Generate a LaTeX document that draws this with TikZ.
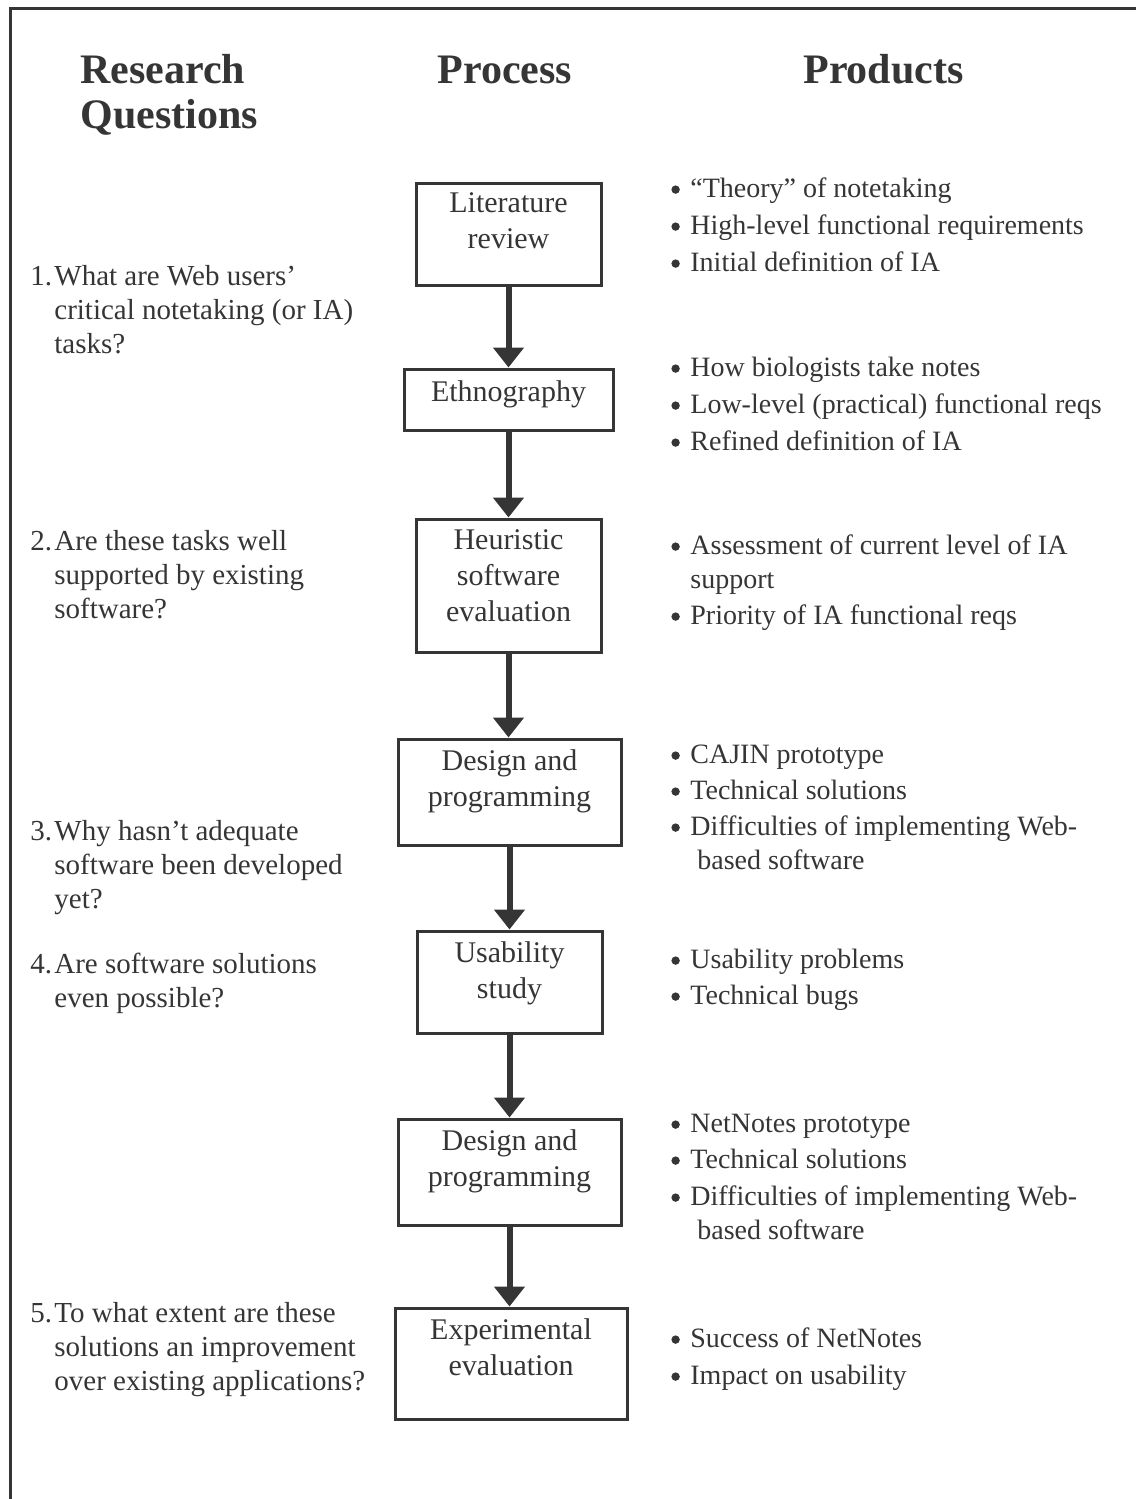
\documentclass[tikz,border=0pt]{standalone}
\usepackage{fontspec}
\setmainfont{Liberation Serif}
\usetikzlibrary{arrows.meta,fit}
\definecolor{ink}{HTML}{353535}
\newcommand{\bul}{\makebox[11pt][l]{\hspace{1.5pt}\tikz[baseline=0pt]\fill[ink] (0pt,3.7pt) circle (2.1pt);}}
\newcommand{\qnum}[1]{\makebox[12pt][l]{#1}}
\newcommand{\qind}{\hspace*{12pt}}
\begin{document}
\begin{tikzpicture}[x=0.5pt,y=-0.5pt,
  hdr/.style={font=\fontsize{21}{22.5}\selectfont\bfseries, text=ink, inner sep=0, align=left, anchor=base west},
  proc/.style={draw=ink, line width=1.5pt, inner sep=0},
  ptxt/.style={font=\fontsize{15}{18}\selectfont, text=ink, align=center, inner sep=0, anchor=base},
  ques/.style={font=\fontsize{14.5}{17}\selectfont, text=ink, align=left, inner sep=0, anchor=base west},
  prod/.style={font=\fontsize{14}{17}\selectfont, text=ink, align=left, inner sep=0, anchor=base west},
  flow/.style={draw=ink, line width=3pt, -{Triangle[width=15pt,length=10pt]}},
  frame/.style={draw=ink, line width=1.5pt}]
\useasboundingbox (0,0) rectangle (1136,1499);
% frame (top and left only)
\coordinate (fTR) at (1136,8);
\coordinate (fTL) at (10,8);
\coordinate (fBL) at (10,1499);
\draw[frame] (fTR) -- (fTL) -- (fBL);

% headers (multi-line nodes: base = last line)
\node[hdr] (hRQ) at (80,128) {Research\\Questions};
\node[hdr, anchor=base] (hPr) at (505,83) {Process};
\node[hdr, anchor=base west] (hPd) at (803,83) {Products};

% process boxes
\node[proc, fit={(416,183) (601,285)}] (b1) {};
\node[proc, fit={(404,369) (613,430)}] (b2) {};
\node[proc, fit={(416,519) (601,652)}] (b3) {};
\node[proc, fit={(398,739) (621,845)}] (b4) {};
\node[proc, fit={(417,931) (602,1033)}] (b5) {};
\node[proc, fit={(398,1119) (621,1225)}] (b6) {};
\node[proc, fit={(395,1308) (627,1419)}] (b7) {};

\node[ptxt] (t1) at (508.5,248) {Literature\\review};
\node[ptxt] (t2) at (508.5,401) {Ethnography};
\node[ptxt] (t3) at (508.5,621) {Heuristic\\software\\evaluation};
\node[ptxt] (t4) at (509.5,806) {Design and\\programming};
\node[ptxt] (t5) at (509.5,998) {Usability\\study};
\node[ptxt] (t6) at (509.5,1186) {Design and\\programming};
\node[ptxt] (t7) at (511,1375) {Experimental\\evaluation};

% arrows
\draw[flow] (b1.south) -- (b1.south |- b2.north);
\draw[flow] (b2.south) -- (b2.south |- b3.north);
\draw[flow] (b3.south) -- (b3.south |- b4.north);
\draw[flow] (b4.south) -- (b4.south |- b5.north);
\draw[flow] (b5.south) -- (b5.south |- b6.north);
\draw[flow] (b6.south) -- (b6.south |- b7.north);

% research questions
\node[ques] (q1) at (30,353) {\qnum{1.}What are Web users'\\\qind critical notetaking (or IA)\\\qind tasks?};
\node[ques] (q2) at (30,618) {\qnum{2.}Are these tasks well\\\qind supported by existing\\\qind software?};
\node[ques] (q3) at (30,908) {\qnum{3.}Why hasn't adequate\\\qind software been developed\\\qind yet?};
\node[ques] (q4) at (30,1007) {\qnum{4.}Are software solutions\\\qind even possible?};
\node[ques] (q5) at (30,1390) {\qnum{5.}To what extent are these\\\qind solutions an improvement\\\qind over existing applications?};

% products
\node[prod] (p11) at (668,197) {\bul``Theory'' of notetaking};
\node[prod] (p12) at (668,234) {\bul High-level functional requirements};
\node[prod] (p13) at (668,271) {\bul Initial definition of IA};

\node[prod] (p21) at (668,376) {\bul How biologists take notes};
\node[prod] (p22) at (668,413) {\bul Low-level (practical) functional reqs};
\node[prod] (p23) at (668,450) {\bul Refined definition of IA};

\node[prod] (p31) at (668,588) {\bul Assessment of current level of IA\\\hspace*{11pt}support};
\node[prod] (p32) at (668,624) {\bul Priority of IA functional reqs};

\node[prod] (p41) at (668,763) {\bul CAJIN prototype};
\node[prod] (p42) at (668,799) {\bul Technical solutions};
\node[prod] (p43) at (668,869) {\bul Difficulties of implementing Web-\\\hspace*{14.5pt}based software};

\node[prod] (p51) at (668,968) {\bul Usability problems};
\node[prod] (p52) at (668,1004) {\bul Technical bugs};

\node[prod] (p61) at (668,1132) {\bul NetNotes prototype};
\node[prod] (p62) at (668,1168) {\bul Technical solutions};
\node[prod] (p63) at (668,1239) {\bul Difficulties of implementing Web-\\\hspace*{14.5pt}based software};

\node[prod] (p71) at (668,1347) {\bul Success of NetNotes};
\node[prod] (p72) at (668,1384) {\bul Impact on usability};
\end{tikzpicture}
\end{document}
